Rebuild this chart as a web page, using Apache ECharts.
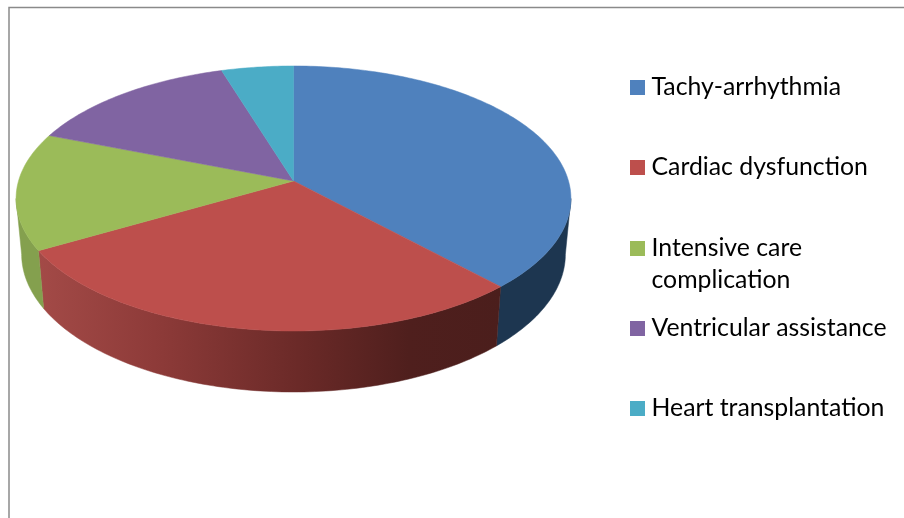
<!DOCTYPE html>
<html>
<head>
<meta charset="utf-8">
<style>html,body{margin:0;padding:0;background:#fff}#c{width:904px;height:518px}</style>
<script src="https://cdn.jsdelivr.net/npm/echarts@6/dist/echarts.min.js"></script>
</head>
<body>
<div id="c"></div>
<script>
const categories = ['Tachy-arrhythmia','Cardiac dysfunction','Intensive care\ncomplication','Ventricular assistance','Heart transplantation'];
const values = [8,6,3,3,1];
const topColors = ['#4f81bd','#bd4f4c','#9bbb59','#8064a2','#4bacc6'];
const wallStops = [
  [[0,'#1d3650'],[1,'#1d3650']],
  [[0,'#a34a47'],[0.25,'#8e3b39'],[0.58,'#692927'],[0.8,'#4f1f1d'],[1,'#4b1e1c']],
  [[0,'#84a04e'],[1,'#84a04e']],
  [[0,'#6b5488'],[1,'#6b5488']],
  [[0,'#3f90a6'],[1,'#3f90a6']]
];
const legendY = [87,167,248,328,408];

const apexX = 293.5, apexY = 181, A = 275, B = 130.2, K = -0.132;
const floorScaleX = 0.98, floorScaleY = 1.04, floorY = 236;
const wallStart = 97.6, wallEnd = 262.4;
const total = values.reduce((a,b)=>a+b,0);

function rim(deg){
  const t = deg*Math.PI/180, d = 1-K*Math.cos(t);
  return [A*Math.sin(t)/d, -B*Math.cos(t)/d];
}
const topPt = deg => { const p=rim(deg); return [apexX+p[0], apexY+p[1]]; };
const botPt = deg => { const p=rim(deg); return [apexX+p[0]*floorScaleX, floorY+p[1]*floorScaleY]; };
function arc(fn,a,b){
  const n=Math.max(2,Math.ceil(Math.abs(b-a))), out=[];
  for(let i=0;i<=n;i++) out.push(fn(a+(b-a)*i/n));
  return out;
}
function renderItem(params, api){
  const i = params.dataIndex;
  let before = 0;
  for(let j=0;j<i;j++) before += values[j];
  const a0 = before/total*360, a1 = (before+api.value(0))/total*360;
  const children = [];
  const w0 = Math.max(a0,wallStart), w1 = Math.min(a1,wallEnd);
  if(w1>w0){
    const pts = arc(topPt,w0,w1).concat(arc(botPt,w1,w0));
    const xs = pts.map(p=>p[0]);
    const fill = {type:'linear',global:true,x:Math.min(...xs),y:0,x2:Math.max(...xs),y2:0,
      colorStops:wallStops[i].map(s=>({offset:s[0],color:s[1]}))};
    children.push({type:'polygon',shape:{points:pts},style:{fill:fill,stroke:fill,lineWidth:0.5}});
  }
  const face = [[apexX,apexY]].concat(arc(topPt,a0,a1));
  children.push({type:'polygon',z2:10,shape:{points:face},style:{fill:topColors[i],stroke:topColors[i],lineWidth:0.5}});
  return {type:'group',children:children};
}
const legendGraphics = [];
categories.forEach((name,i)=>{
  legendGraphics.push({type:'rect',shape:{x:630,y:legendY[i]-7,width:15,height:15},style:{fill:topColors[i]}});
  legendGraphics.push({type:'text',x:651.5,y:legendY[i]-16,style:{text:name,fill:'#000',font:'24.8px Lato, "Open Sans", sans-serif',lineHeight:32,textVerticalAlign:'top'}});
});
const chart = echarts.init(document.getElementById('c'),null,{renderer:'canvas'});
chart.setOption({
  animation:false,
  backgroundColor:'#fff',
  graphic:[
    {type:'polyline',shape:{points:[[9,518],[9,7.5],[904,7.5]]},style:{stroke:'#8a8a8a',lineWidth:1.5,fill:null}}
  ].concat(legendGraphics),
  series:[{
    type:'custom',
    coordinateSystem:'none',
    renderItem:renderItem,
    data:values.map((v,i)=>({name:categories[i],value:[v]}))
  }]
});
</script>
</body>
</html>
